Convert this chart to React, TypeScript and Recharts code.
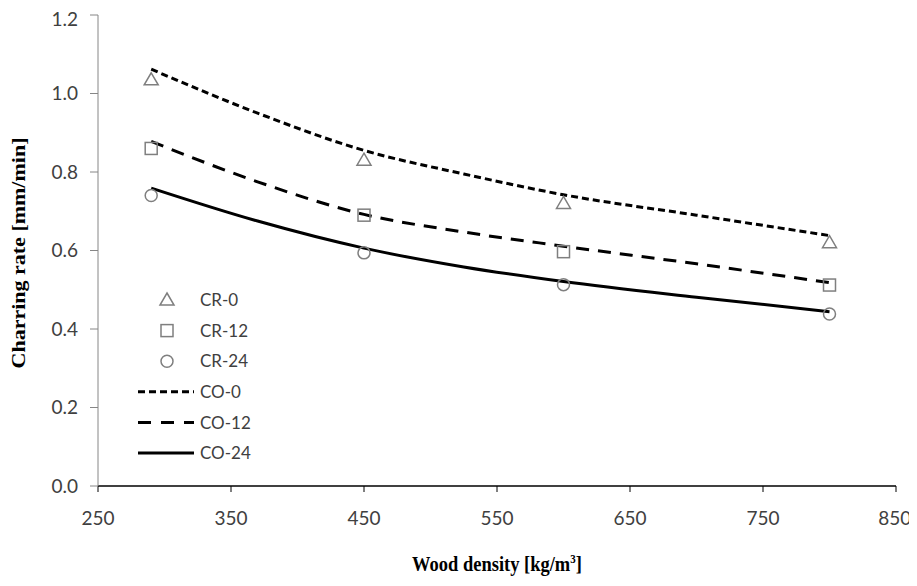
import React from 'react';
import { ComposedChart, Line, Scatter, XAxis, YAxis } from 'recharts';

// measured points (CR) and fitted curves (CO)
const densities = [290, 450, 600, 800];
const cr0 = [1.035, 0.83, 0.72, 0.62];
const cr12 = [0.86, 0.69, 0.597, 0.512];
const cr24 = [0.74, 0.594, 0.513, 0.438];

const curveDensities = [290, 370, 450, 525, 600, 700, 800];
const co0 = [1.062, 0.95, 0.855, 0.795, 0.742, 0.69, 0.638];
const co12 = [0.878, 0.775, 0.692, 0.647, 0.611, 0.566, 0.518];
const co24 = [0.759, 0.675, 0.606, 0.558, 0.521, 0.481, 0.444];

const xTicks = [250, 350, 450, 550, 650, 750, 850];
const yTicks = [0, 0.2, 0.4, 0.6, 0.8, 1.0, 1.2];

const toRows = (xs: number[], ys: number[]) => xs.map((x, i) => ({ x, y: ys[i] }));

const MARK = '#7f7f7f';
const TICK_FONT = { fontSize: 19, fontFamily: 'Lato', fill: '#404040' };

const Triangle = ({ cx, cy }: any) => (
  <path d={`M${cx},${cy - 7} L${cx + 7},${cy + 5} L${cx - 7},${cy + 5} Z`} fill="none" stroke={MARK} strokeWidth={1.5} />
);
const Square = ({ cx, cy }: any) => (
  <rect x={cx - 6} y={cy - 6} width={12} height={12} fill="none" stroke={MARK} strokeWidth={1.5} />
);
const Circle = ({ cx, cy }: any) => (
  <circle cx={cx} cy={cy} r={6} fill="none" stroke={MARK} strokeWidth={1.5} />
);

const legendRows = [
  { name: 'CR-0', kind: 'tri' },
  { name: 'CR-12', kind: 'sq' },
  { name: 'CR-24', kind: 'circ' },
  { name: 'CO-0', kind: 'line', dash: '7 4' },
  { name: 'CO-12', kind: 'line', dash: '13 10' },
  { name: 'CO-24', kind: 'line', dash: undefined },
];

const ChartLegend = () => (
  <svg width={140} height={185} style={{ position: 'absolute', left: 128, top: 277 }}>
    {legendRows.map((r, i) => {
      const cy = 15 + i * 30.6;
      let mark: any = null;
      if (r.kind === 'tri') mark = <Triangle cx={31} cy={cy} />;
      else if (r.kind === 'sq') mark = <Square cx={31} cy={cy} />;
      else if (r.kind === 'circ') mark = <Circle cx={31} cy={cy} />;
      else mark = <line x1={2} x2={58} y1={cy} y2={cy} stroke="#000" strokeWidth={3} strokeDasharray={r.dash} />;
      return (
        <g key={r.name}>
          {mark}
          <text x={64} y={cy} dy="0.36em" fontSize={17} fontFamily="Lato" fill="#404040">{r.name}</text>
        </g>
      );
    })}
  </svg>
);

const App = () => {
  return (
    <div style={{ position: 'relative', width: 901, height: 570 }}>
      <style>{'html, body { overflow: hidden; } .recharts-surface { overflow: visible; }'}</style>
      <ComposedChart width={901} height={570} margin={{ top: 7, right: 13, left: 30, bottom: 32 }}>
        <XAxis
          type="number"
          dataKey="x"
          domain={[250, 850]}
          ticks={xTicks}
          allowDataOverflow
          axisLine={{ stroke: '#000', strokeWidth: 1.5 }}
          tickLine={{ stroke: '#000' }}
          tickSize={6}
          tickMargin={20}
          height={60}
          tick={TICK_FONT}
        />
        <YAxis
          type="number"
          dataKey="y"
          domain={[0, 1.2]}
          ticks={yTicks}
          tickFormatter={(v: number) => v.toFixed(1)}
          axisLine={{ stroke: '#868686' }}
          tickLine={{ stroke: '#868686' }}
          tickSize={8}
          tickMargin={12}
          width={60}
          tick={TICK_FONT}
        />
        <Line data={toRows(curveDensities, co0)} dataKey="y" name="CO-0" type="monotone" stroke="#000" strokeWidth={3} strokeDasharray="7 4" dot={false} isAnimationActive={false} />
        <Line data={toRows(curveDensities, co12)} dataKey="y" name="CO-12" type="monotone" stroke="#000" strokeWidth={3} strokeDasharray="13 9" dot={false} isAnimationActive={false} />
        <Line data={toRows(curveDensities, co24)} dataKey="y" name="CO-24" type="monotone" stroke="#000" strokeWidth={3} dot={false} isAnimationActive={false} />
        <Scatter data={toRows(densities, cr0)} dataKey="y" name="CR-0" shape={Triangle} isAnimationActive={false} />
        <Scatter data={toRows(densities, cr12)} dataKey="y" name="CR-12" shape={Square} isAnimationActive={false} />
        <Scatter data={toRows(densities, cr24)} dataKey="y" name="CR-24" shape={Circle} isAnimationActive={false} />
      </ComposedChart>
      <ChartLegend />
      <div style={{ position: 'absolute', left: 11, top: 245, transform: 'translate(-50%, -50%) rotate(-90deg) scaleY(0.85)', whiteSpace: 'nowrap', fontFamily: '"Liberation Serif"', fontWeight: 'bold', fontSize: 22 }}>
        Charring rate [mm/min]
      </div>
      <div style={{ position: 'absolute', left: 489, top: 556, transform: 'translate(-50%, -50%) scaleX(0.84)', whiteSpace: 'nowrap', fontFamily: '"Liberation Serif"', fontWeight: 'bold', fontSize: 22 }}>
        Wood density [kg/m<sup style={{ fontSize: 13 }}>3</sup>]
      </div>
    </div>
  );
};

export default App;
